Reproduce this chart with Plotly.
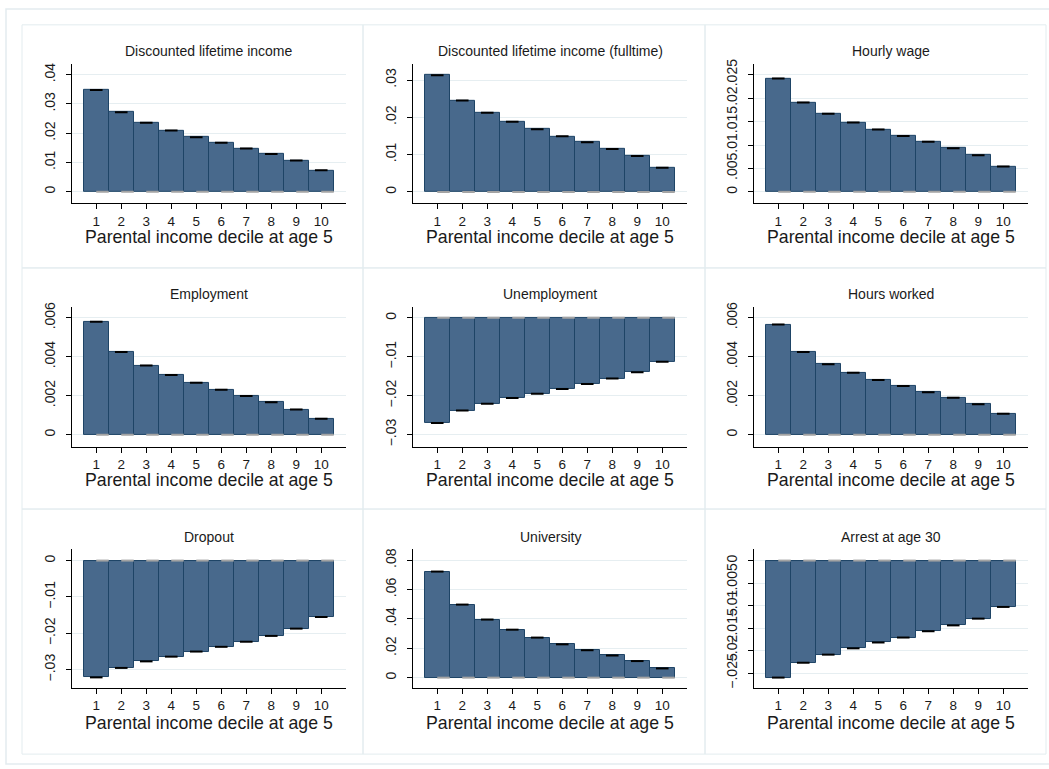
import plotly.graph_objects as go

deciles = [1, 2, 3, 4, 5, 6, 7, 8, 9, 10]
titles = ["Discounted lifetime income", "Discounted lifetime income (fulltime)", "Hourly wage",
          "Employment", "Unemployment", "Hours worked",
          "Dropout", "University", "Arrest at age 30"]
xlabel = "Parental income decile at age 5"

lifetime_income = [0.0348, 0.0272, 0.0236, 0.0209, 0.0186, 0.0167, 0.0148, 0.0129, 0.0107, 0.0073]
lifetime_income_ft = [0.0313, 0.0245, 0.0212, 0.0188, 0.0168, 0.0149, 0.0133, 0.0115, 0.0096, 0.0065]
hourly_wage = [0.0242, 0.0191, 0.0167, 0.0148, 0.0133, 0.0119, 0.0107, 0.0093, 0.0078, 0.0054]
employment = [0.00580, 0.00425, 0.00355, 0.00306, 0.00267, 0.00231, 0.00199, 0.00167, 0.00129, 0.00082]
unemployment = [-0.0270, -0.0238, -0.0221, -0.0206, -0.0195, -0.0183, -0.0170, -0.0156, -0.0140, -0.0113]
hours_worked = [0.00566, 0.00425, 0.00362, 0.00318, 0.00281, 0.00250, 0.00218, 0.00189, 0.00156, 0.00107]
dropout = [-0.0321, -0.0295, -0.0277, -0.0264, -0.0250, -0.0237, -0.0223, -0.0207, -0.0187, -0.0155]
university = [0.0723, 0.0498, 0.0396, 0.0327, 0.0273, 0.0227, 0.0187, 0.0151, 0.0113, 0.0063]
arrest30 = [-0.0260, -0.0227, -0.0209, -0.0195, -0.0182, -0.0171, -0.0157, -0.0144, -0.0129, -0.0103]

series = [lifetime_income, lifetime_income_ft, hourly_wage,
          employment, unemployment, hours_worked,
          dropout, university, arrest30]

tick_vals = [
    [0, 0.01, 0.02, 0.03, 0.04],
    [0, 0.01, 0.02, 0.03],
    [0, 0.005, 0.01, 0.015, 0.02, 0.025],
    [0, 0.002, 0.004, 0.006],
    [-0.03, -0.02, -0.01, 0],
    [0, 0.002, 0.004, 0.006],
    [-0.03, -0.02, -0.01, 0],
    [0, 0.02, 0.04, 0.06, 0.08],
    [-0.025, -0.02, -0.015, -0.01, -0.005, 0],
]
tick_text = [
    ["0", ".01", ".02", ".03", ".04"],
    ["0", ".01", ".02", ".03"],
    ["0", ".005", ".01", ".015", ".02", ".025"],
    ["0", ".002", ".004", ".006"],
    ["\u2212.03", "\u2212.02", "\u2212.01", "0"],
    ["0", ".002", ".004", ".006"],
    ["\u2212.03", "\u2212.02", "\u2212.01", "0"],
    ["0", ".02", ".04", ".06", ".08"],
    ["\u2212.025", "\u2212.02", "\u2212.015", "\u2212.01", "\u2212.005", "0"],
]

# layout geometry (pixels)
W, H = 1049, 769
y_ranges = [
    [-0.0040, 0.0437], [-0.0031, 0.03435], [-0.00247, 0.02733],
    [-0.00061, 0.00656], [-0.03306, 0.0028], [-0.00061, 0.00656],
    [-0.0350, 0.00318], [-0.0070, 0.08766], [-0.0283, 0.00257],
]
col_x = [(72, 346), (413, 687), (754, 1028)]
row_y = [(59.3, 200), (304.3, 445), (548.3, 688.3)]
xtitle_off = [33.5, 33.5, 35]
cell_x = [22, 363, 705, 1046]
cell_y = [20, 265, 508, 755]

FONT = "Liberation Sans, Arial, Helvetica, sans-serif"
BAR_FILL = "#48698c"
BAR_LINE = "#1e4466"
GRID = "#e6eef1"
TXT = "#1a1a1a"

fig = go.Figure()
annotations = []
shapes = []

for k in range(9):
    r, c = divmod(k, 3)
    ax = "" if k == 0 else str(k + 1)
    xa, ya = "x" + ax, "y" + ax
    vals = series[k]

    fig.add_trace(go.Bar(
        x=deciles, y=vals, width=1.0, xaxis=xa, yaxis=ya,
        marker=dict(color=BAR_FILL, line=dict(color=BAR_LINE, width=1)),
        showlegend=False, hoverinfo="x+y"))

    # gray zero-reference segments
    gx, gy = [], []
    for d in deciles:
        gx += [d, d + 0.5, None]
        gy += [0, 0, None]
    fig.add_trace(go.Scatter(
        x=gx, y=gy, mode="lines", xaxis=xa, yaxis=ya,
        line=dict(color="#a3a3a3", width=2), showlegend=False, hoverinfo="skip"))

    # CI caps
    fig.add_trace(go.Scatter(
        x=deciles, y=vals, mode="markers", xaxis=xa, yaxis=ya,
        marker=dict(symbol="line-ew", size=9, line=dict(color="black", width=2)),
        showlegend=False, hoverinfo="skip"))

    x0, x1 = col_x[c]
    y0, y1 = row_y[r]
    xdom = [x0 / W, x1 / W]
    ydom = [1 - y1 / H, 1 - y0 / H]

    fig.layout["xaxis" + ax] = dict(
        domain=xdom, anchor=ya, range=[0.03, 10.99],
        tickmode="array", tickvals=deciles, ticktext=[str(d) for d in deciles],
        ticks="outside", ticklen=5, tickcolor="black", tickwidth=1,
        showline=True, linecolor="black", linewidth=1, showgrid=False, zeroline=False,
        tickfont=dict(family=FONT, size=13.5, color=TXT), ticklabelstandoff=0,
        fixedrange=True)
    fig.layout["yaxis" + ax] = dict(
        domain=ydom, anchor=xa, range=y_ranges[k],
        tickmode="array", tickvals=tick_vals[k], ticktext=tick_text[k],
        ticks="outside", ticklen=5, tickcolor="black", tickwidth=1, tickangle=-90,
        showline=True, linecolor="black", linewidth=1,
        showgrid=True, gridcolor=GRID, gridwidth=1, zeroline=False,
        tickfont=dict(family=FONT, size=14, color=TXT), ticklabelstandoff=5,
        fixedrange=True)

    cx = (x0 + x1) / 2 / W
    annotations.append(dict(
        text=titles[k], x=cx, y=1 - (y0 - 12.6) / H, xref="paper", yref="paper",
        xanchor="center", yanchor="middle", showarrow=False,
        font=dict(family=FONT, size=14, color=TXT)))
    annotations.append(dict(
        text=xlabel, x=cx, y=1 - (y1 + xtitle_off[r]) / H, xref="paper", yref="paper",
        xanchor="center", yanchor="middle", showarrow=False,
        font=dict(family=FONT, size=17.7, color=TXT)))

# panel borders
for r in range(3):
    for c in range(3):
        shapes.append(dict(
            type="rect", xref="paper", yref="paper",
            x0=cell_x[c] / W, x1=cell_x[c + 1] / W,
            y0=1 - cell_y[r + 1] / H, y1=1 - cell_y[r] / H,
            line=dict(color="#e3ecef", width=1), fillcolor="rgba(0,0,0,0)", layer="below"))
# outer frame
shapes.append(dict(
    type="rect", xref="paper", yref="paper",
    x0=6 / W, x1=1.05, y0=1 - 765 / H, y1=1 - 4 / H,
    line=dict(color="#e3ecef", width=1.5), fillcolor="rgba(0,0,0,0)", layer="below"))

fig.update_layout(
    width=W, height=H, margin=dict(l=0, r=0, t=0, b=0),
    paper_bgcolor="white", plot_bgcolor="white",
    bargap=0, showlegend=False,
    annotations=annotations, shapes=shapes,
    font=dict(family=FONT, color=TXT))

fig.write_html(
    "out.html",
    config={"displayModeBar": False},
    post_script=(
        "document.documentElement.style.margin='0';"
        "document.body.style.margin='0';document.body.style.padding='0';"
        "document.body.style.overflow='hidden';"
        "var gd=document.getElementById('{plot_id}');"
        "gd.style.position='absolute';gd.style.left='0px';gd.style.top='0px';"
    ),
)
